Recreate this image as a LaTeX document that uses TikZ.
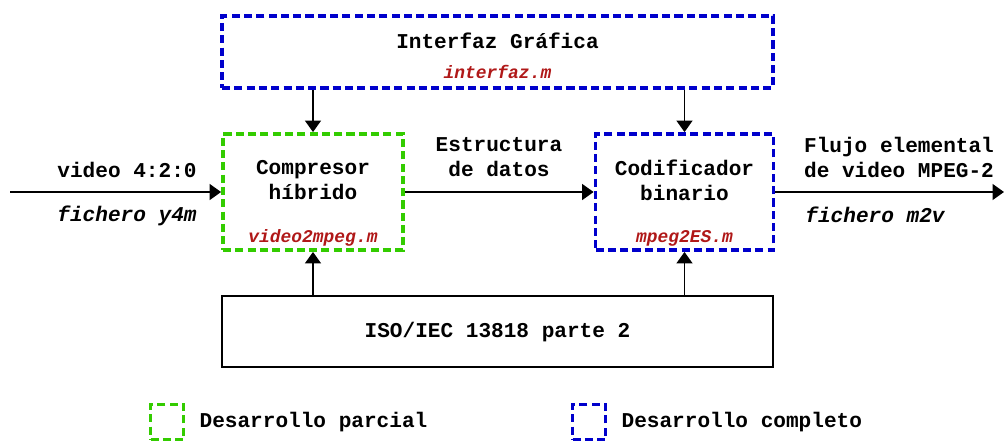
\documentclass[tikz,border=0pt]{standalone}
\usepackage{fontspec}
\usetikzlibrary{arrows.meta,positioning}
\newfontfamily\codefont{Liberation Mono}
\definecolor{fullc}{HTML}{0000CC}
\definecolor{partc}{HTML}{33CC00}
\definecolor{filec}{HTML}{B01818}
\tikzset{
  partial/.style={draw=partc, line width=2.2pt, dash pattern=on 4.6pt off 2.4pt, inner sep=0pt},
  complete/.style={draw=fullc, line width=2.2pt, dash pattern=on 4.6pt off 2.4pt, inner sep=0pt},
  plain/.style={draw=black, line width=1pt, inner sep=0pt},
  lbl/.style={font=\codefont\bfseries\fontsize{12}{14.2}\selectfont, align=center},
  file/.style={font=\codefont\bfseries\itshape\fontsize{10.2}{12}\selectfont, text=filec},
  note/.style={font=\codefont\bfseries\itshape\fontsize{12}{14.2}\selectfont},
  link/.style={-{Triangle[length=6.5pt, width=9pt]}, line width=1pt},
}
\begin{document}
\begin{tikzpicture}[x=0.02cm, y=-0.02cm]
  \useasboundingbox (0,0) rectangle (1005,443);
  % blocks
  \node[complete, minimum width=11.02cm, minimum height=1.44cm] (gui) at (497.5,52) {};
  \node[partial, minimum width=3.6cm, minimum height=2.32cm] (comp) at (313,192) {};
  \node[complete, minimum width=3.56cm, minimum height=2.32cm] (cod) at (684.5,192) {};
  \node[plain, minimum width=11.02cm, minimum height=1.42cm] (iso) at (497.5,331.5) {};
  % block texts
  \node[lbl] (guiT) at (497.5,41) {Interfaz Gráfica};
  \node[file] (guiF) at (497.5,72) {interfaz.m};
  \node[lbl] (compT) at (313,180.5) {Compresor\\híbrido};
  \node[file] (compF) at (313,238) {video2mpeg.m};
  \node[lbl] (codT) at (684.5,180.5) {Codificador\\binario};
  \node[file] (codF) at (684.5,238) {mpeg2ES.m};
  \node[lbl] (isoT) at (497.5,332) {ISO/IEC 13818 parte 2};
  % flows
  \coordinate (src) at (10,192);
  \coordinate (dst) at (1004,192);
  \draw[link] (src) -- (comp.west);
  \draw[link] (comp.east) -- (cod.west);
  \draw[link] (cod.east) -- (dst);
  \draw[link] (comp.north |- gui.south) -- (comp.north);
  \draw[link] (cod.north |- gui.south) -- (cod.north);
  \draw[link] (comp.south |- iso.north) -- (comp.south);
  \draw[link] (cod.south |- iso.north) -- (cod.south);
  % flow labels
  \node[lbl] (inT) at (127,170) {video 4:2:0};
  \node[note] (inF) at (127,216) {fichero y4m};
  \node[lbl] (midT) at (499,157.5) {Estructura\\de datos};
  \node[lbl] (outT) at (899,157.5) {Flujo elemental\\de video MPEG-2};
  \node[note] (outF) at (875,215) {fichero m2v};
  % legend
  \node[partial, minimum width=0.66cm, minimum height=0.7cm] (legP) at (167,422) {};
  \node[lbl, anchor=west, right=0.16cm of legP] (legPT) {Desarrollo parcial};
  \node[complete, minimum width=0.66cm, minimum height=0.7cm] (legC) at (589,422) {};
  \node[lbl, anchor=west, right=0.16cm of legC] (legCT) {Desarrollo completo};
\end{tikzpicture}
\end{document}
